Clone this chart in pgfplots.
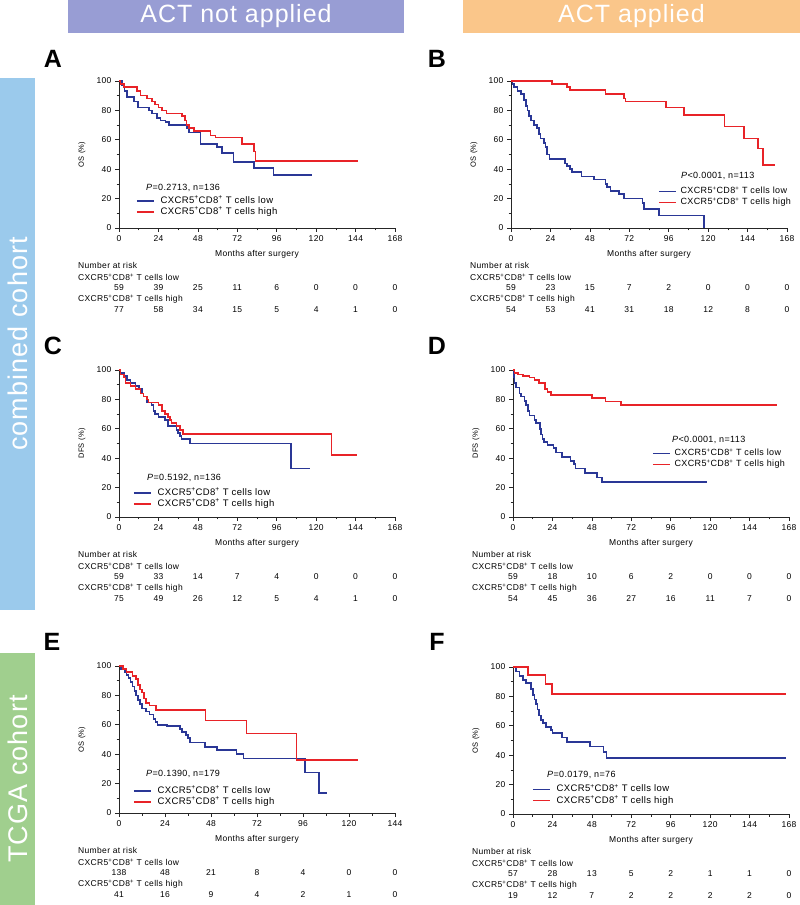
\documentclass[border=0pt]{standalone}
\usepackage{fontspec}
\setmainfont{Liberation Sans}[LetterSpace=4]
\usepackage{pgfplots}
\pgfplotsset{compat=1.18}

\definecolor{kmblue}{RGB}{42,55,150}
\definecolor{kmred}{RGB}{232,35,40}
\definecolor{hdpurple}{RGB}{152,157,212}
\definecolor{hdorange}{RGB}{250,198,138}
\definecolor{sideblue}{RGB}{155,202,236}
\definecolor{sidegreen}{RGB}{160,207,142}

\newcommand\tf{\fontsize{8.5}{10}\selectfont}
\newcommand\lf{\fontsize{9}{10}\selectfont}
\newcommand\gf{\fontsize{9.5}{10}\selectfont}
\newcommand\cx{CXCR5\textsuperscript{+}CD8\textsuperscript{+}}

\newcommand\risk[2]{%
 \node[anchor=west,font=\tf,inner sep=0pt,xshift=-41pt,yshift=-37pt] at (axis cs:0,0) {Number at risk};
 \node[anchor=west,font=\tf,inner sep=0pt,xshift=-41pt,yshift=-49pt] at (axis cs:0,0) {\cx\ T cells low};
 \node[anchor=west,font=\tf,inner sep=0pt,xshift=-41pt,yshift=-71pt] at (axis cs:0,0) {\cx\ T cells high};
 \foreach \xx/\nn in {#1}{\edef\tmp{\noexpand\node[font=\noexpand\tf,yshift=-60pt] at (axis cs:\xx,0) {\nn};}\tmp}
 \foreach \xx/\nn in {#2}{\edef\tmp{\noexpand\node[font=\noexpand\tf,yshift=-82pt] at (axis cs:\xx,0) {\nn};}\tmp}
}
\newcommand\pval[3]{\node[anchor=west,font=\lf,inner sep=0pt,xshift=#1,yshift=#2] at (axis cs:0,0) {#3};}

\pgfplotsset{
 km/.style={
  scale only axis, width=276pt, height=147pt,
  xmin=0, xmax=168, ymin=0, ymax=100,
  axis lines=left, axis line style={-, line width=0.9pt, black!85},
  xtick={0,24,...,168}, ytick={0,20,...,100},
  minor x tick num=1, minor y tick num=1,
  tick align=outside, major tick length=4pt, minor tick length=2.5pt,
  every tick/.style={black!85, line width=0.7pt},
  ticklabel style={font=\tf},
  /pgf/number format/assume math mode=true,
  xlabel={Months after surgery},
  xlabel style={font=\tf, at={(axis description cs:0.5,-0.177)}, anchor=center},
  ylabel style={font=\fontsize{7.5}{8}\selectfont, at={(axis description cs:-0.134,0.5)}, anchor=center},
  clip=false,
  legend style={draw=none, fill=none, inner sep=0pt, outer sep=0pt, font=\gf,
    column sep=6pt, row sep=2pt, nodes={inner sep=0pt, text height=7pt, text depth=2pt},
    cells={anchor=west}},
  legend image code/.code={\draw[##1, line width=1.6pt] (0pt,0pt) -- (17pt,0pt);},
  every axis plot/.append style={line width=1.6pt, const plot, mark=none},
 },
 kmleg/.style 2 args={legend style={at={(axis cs:0,0)}, anchor=west, xshift=#1, yshift=#2}},
 smallleg/.style={legend style={font=\lf, column sep=4pt}},
}

\begin{document}
\begin{tikzpicture}[x=1pt,y=1pt]
\useasboundingbox (0,0) rectangle (800,905);
% headers
\fill[hdpurple] (68,872) rectangle (404,905);
\node[text=white,font=\fontsize{25}{28}\selectfont] at (236,888.5) {ACT not applied};
\fill[hdorange] (463,872) rectangle (800,905);
\node[text=white,font=\fontsize{25}{28}\selectfont] at (631.5,888.5) {ACT applied};
\fill[sideblue] (0,295) rectangle (35,827);
\node[text=white,rotate=90,font=\fontsize{27}{30}\selectfont] at (17.5,561) {combined cohort};
\fill[sidegreen] (0,0) rectangle (35,252);
\node[text=white,rotate=90,font=\fontsize{27}{30}\selectfont] at (17.5,126) {TCGA cohort};
% panel letters
\node[font=\fontsize{25}{28}\selectfont\bfseries] at (53,846) {A};
\node[font=\fontsize{25}{28}\selectfont\bfseries] at (437,846) {B};
\node[font=\fontsize{25}{28}\selectfont\bfseries] at (53,559) {C};
\node[font=\fontsize{25}{28}\selectfont\bfseries] at (437,559) {D};
\node[font=\fontsize{25}{28}\selectfont\bfseries] at (52,263) {E};
\node[font=\fontsize{25}{28}\selectfont\bfseries] at (437,263) {F};

% ---------- A ----------
\begin{axis}[km, at={(119pt,677pt)}, anchor=south west, ylabel={OS (\%)}, kmleg={17pt}{21.5pt}]
\addplot[kmblue] coordinates {(0,100)(2,97)(3.4,93)(5,89)(9,86)(11.5,82)(18.2,80)(20.2,78)(23.3,75)(25.3,73)(28.3,72)(30.4,70)(41.5,68)(42.5,65)(49.6,57)(59.7,55)(62.8,51)(69.8,45)(82,41)(94.1,36)(117.4,36)};
\addlegendentry{\cx\ T cells low}
\addplot[kmred] coordinates {(0,100)(1,98)(3,96)(11,93)(13,90)(17,88)(20,86)(22,84)(24,82)(26,80)(29,78)(38.5,76)(40,73)(41,70)(42.5,68)(45.5,66)(55.7,63)(58.7,61.5)(75,57)(82,52)(83,45.5)(145.7,45.5)};
\addlegendentry{\cx\ T cells high}
\pval{27pt}{40pt}{\textit{P}=0.2713, n=136}
\risk{0/59,24/39,48/25,72/11,96/6,120/0,144/0,168/0}{0/77,24/58,48/34,72/15,96/5,120/4,144/1,168/0}
\end{axis}

% ---------- B ----------
\begin{axis}[km, at={(511pt,677pt)}, anchor=south west, ylabel={OS (\%)}, kmleg={147pt}{31pt}, smallleg]
\addplot[kmblue] coordinates {(0,100)(1,98)(2,96)(4,93)(6,91)(8,87)(9,83)(10,80)(11,76)(12,73)(14,70)(16,68)(17,64)(18,61)(20,58)(21,55)(22,50)(23.4,47)(33,44)(34,42)(36,40)(37,38)(43,35)(50.4,33)(57.5,30)(58.5,28)(60.5,25)(65.6,23)(68.7,20)(80,17)(81,13)(90,8.5)(117.6,0)};
\addlegendentry{\cx\ T cells low}
\addplot[kmred] coordinates {(0,100)(24.9,98)(34,96)(36,94)(57.5,91)(68.7,88)(69.7,86)(94.2,82)(105.4,77)(129.9,69)(142,61)(150.3,54)(153.3,43)(160.4,43)};
\addlegendentry{\cx\ T cells high}
\pval{170pt}{52pt}{\textit{P}<0.0001, n=113}
\risk{0/59,24/23,48/15,72/7,96/2,120/0,144/0,168/0}{0/54,24/53,48/41,72/31,96/18,120/12,144/8,168/0}
\end{axis}

% ---------- C ----------
\begin{axis}[km, at={(119pt,388pt)}, anchor=south west, ylabel={DFS (\%)}, kmleg={14pt}{18.5pt}]
\addplot[kmblue] coordinates {(0,100)(1,98)(3,96)(5,93)(7,91)(10,89)(12,87)(14,84)(15,82)(17,78)(19.9,76)(21,72)(22,70)(24,68)(28,66)(30,62)(35,59)(36,57)(37,55)(38,53)(43.2,50)(104.7,33)(116.2,33)};
\addlegendentry{\cx\ T cells low}
\addplot[kmred] coordinates {(0,100)(1,97)(3,95)(4,91)(7,89)(10,87)(13,84)(15,82)(17,80)(18,78)(24,76)(26,72)(28,70)(30,68)(31,66)(32,64)(35,62)(37,59)(39,56.5)(129.4,42)(144.6,42)};
\addlegendentry{\cx\ T cells high}
\pval{28pt}{39pt}{\textit{P}=0.5192, n=136}
\risk{0/59,24/33,48/14,72/7,96/4,120/0,144/0,168/0}{0/75,24/49,48/26,72/12,96/5,120/4,144/1,168/0}
\end{axis}

% ---------- D ----------
\begin{axis}[km, at={(513pt,388pt)}, anchor=south west, ylabel={DFS (\%)}, kmleg={139pt}{58pt}, smallleg]
\addplot[kmblue] coordinates {(0,100)(0.5,95)(1,91)(2,88)(4,84)(5,82)(7,79)(8,76)(9,72)(10,69)(13,66)(14,64)(16.4,60)(17,56)(18,53)(19,51)(21,49)(24.6,47)(26,44)(30,41)(35,38)(37,36)(38,33)(44,30)(51,27)(54,24)(117.8,24)};
\addlegendentry{\cx\ T cells low}
\addplot[kmred] coordinates {(0,100)(1,98)(3,97)(6,96)(10,95)(13,93)(16,91)(19.5,87)(21,85)(23,83)(48,81)(56.4,78.5)(65.6,76)(160.9,76)};
\addlegendentry{\cx\ T cells high}
\pval{159pt}{77pt}{\textit{P}<0.0001, n=113}
\risk{0/59,24/18,48/10,72/6,96/2,120/0,144/0,168/0}{0/54,24/45,48/36,72/27,96/16,120/11,144/7,168/0}
\end{axis}

% ---------- E ----------
\begin{axis}[km, at={(119pt,92pt)}, anchor=south west, xmax=144, xtick={0,24,...,144}, ylabel={OS (\%)}, kmleg={14pt}{16.5pt}]
\addplot[kmblue] coordinates {(0,100)(1,98)(3,96)(4,94)(5,92)(6,89)(7,86)(8,83)(9,80)(10,77)(11,74)(12,71)(14,69)(16,67)(18,64)(19,62)(20,60)(25,59)(31.8,57)(33,55)(35,53)(36,51)(37,48)(45,45)(51,43)(61.4,40)(64.9,37)(97,27.5)(104.3,13.5)(108.3,13.5)};
\addlegendentry{\cx\ T cells low}
\addplot[kmred] coordinates {(0,100)(2,98)(4,96)(7,93)(9,91)(10,87)(11,84)(12,82)(13,78)(14,75)(16,73)(19.3,70)(45.2,63)(66.6,54)(92.7,36)(124.9,36)};
\addlegendentry{\cx\ T cells high}
\pval{27pt}{39pt}{\textit{P}=0.1390, n=179}
\risk{0/138,24/48,48/21,72/8,96/4,120/0,144/0}{0/41,24/16,48/9,72/4,96/2,120/1,144/0}
\end{axis}

% ---------- F ----------
\begin{axis}[km, at={(513pt,91pt)}, anchor=south west, ylabel={OS (\%)}, kmleg={19pt}{19pt}]
\addplot[kmblue] coordinates {(0,100)(2,97)(4,94)(6,91)(8,89)(11,85)(12,81)(13,78)(14,75)(15,71)(16,67)(17,64)(18.4,62)(20,59)(23,57)(24,55)(30,52)(33,49)(47,46)(55,42)(57,38)(166,38)};
\addlegendentry{\cx\ T cells low}
\addplot[kmred] coordinates {(0,100)(9.2,94.5)(19.9,88.5)(23.6,81.5)(166,81.5)};
\addlegendentry{\cx\ T cells high}
\pval{34pt}{39pt}{\textit{P}=0.0179, n=76}
\risk{0/57,24/28,48/13,72/5,96/2,120/1,144/1,168/0}{0/19,24/12,48/7,72/2,96/2,120/2,144/2,168/0}
\end{axis}
\end{tikzpicture}
\end{document}
